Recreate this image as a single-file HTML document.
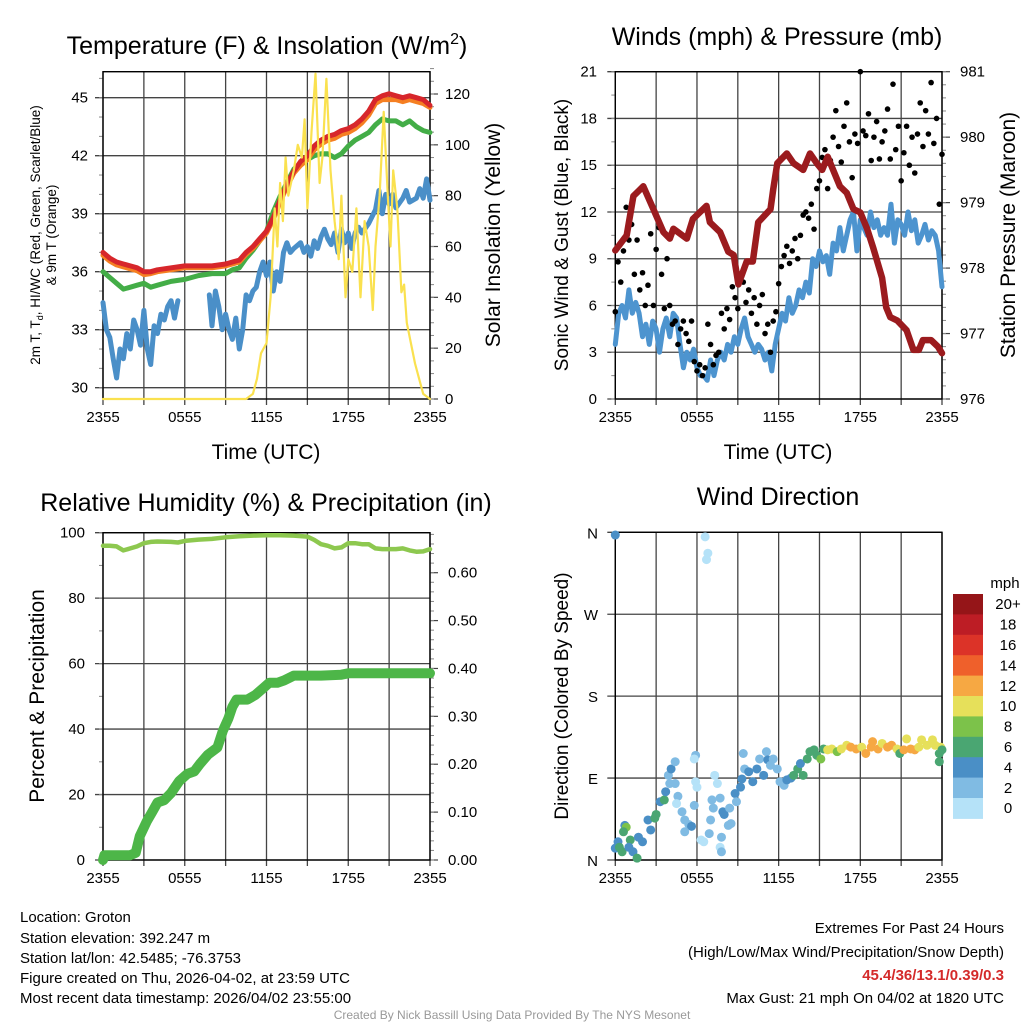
<!DOCTYPE html>
<html><head><meta charset="utf-8"><style>
html,body{margin:0;padding:0;background:#fff;}
svg{display:block;font-family:"Liberation Sans",Arial,sans-serif;}
</style></head><body>
<svg id="chart" width="1024" height="1024" viewBox="0 0 1024 1024" xmlns="http://www.w3.org/2000/svg">
<rect x="0" y="0" width="1024" height="1024" fill="#fff"/>
<text x="267" y="54" font-size="25" text-anchor="middle">Temperature (F) &amp; Insolation (W/m<tspan font-size="16" dy="-10">2</tspan><tspan dy="10">)</tspan></text>
<text x="777" y="45" font-size="25" text-anchor="middle">Winds (mph) &amp; Pressure (mb)</text>
<text x="266" y="511" font-size="25" text-anchor="middle">Relative Humidity (%) &amp; Precipitation (in)</text>
<text x="778" y="505" font-size="25" text-anchor="middle">Wind Direction</text>
<text x="266" y="459" font-size="21" text-anchor="middle">Time (UTC)</text>
<text x="778" y="459" font-size="21" text-anchor="middle">Time (UTC)</text>
<text transform="translate(40,235) rotate(-90)" font-size="13.5" text-anchor="middle">2m T, T<tspan font-size="9" dy="3">d</tspan><tspan dy="-3">, HI/WC (Red, Green, Scarlet/Blue)</tspan></text>
<text transform="translate(56,235) rotate(-90)" font-size="13.5" text-anchor="middle">&amp; 9m T (Orange)</text>
<text transform="translate(500,235) rotate(-90)" font-size="21" text-anchor="middle">Solar Insolation (Yellow)</text>
<text transform="translate(568,235) rotate(-90)" font-size="19" text-anchor="middle">Sonic Wind &amp; Gust (Blue, Black)</text>
<text transform="translate(1015,235) rotate(-90)" font-size="21" text-anchor="middle">Station Pressure (Maroon)</text>
<text transform="translate(44,696) rotate(-90)" font-size="21" text-anchor="middle">Percent &amp; Precipitation</text>
<text transform="translate(568,696) rotate(-90)" font-size="19" text-anchor="middle">Direction (Colored By Speed)</text>
<g font-size="15">
<text x="20" y="922">Location: Groton</text>
<text x="20" y="943">Station elevation: 392.247 m</text>
<text x="20" y="963">Station lat/lon: 42.5485; -76.3753</text>
<text x="20" y="983">Figure created on Thu, 2026-04-02, at 23:59 UTC</text>
<text x="20" y="1003">Most recent data timestamp: 2026/04/02 23:55:00</text>
</g>
<g font-size="15" text-anchor="end">
<text x="1004" y="933">Extremes For Past 24 Hours</text>
<text x="1004" y="957">(High/Low/Max Wind/Precipitation/Snow Depth)</text>
<text x="1004" y="980" font-weight="bold" fill="#d42a2a">45.4/36/13.1/0.39/0.3</text>
<text x="1004" y="1003">Max Gust: 21 mph On 04/02 at 1820 UTC</text>
</g>
<text x="512" y="1019" font-size="12" fill="#999" text-anchor="middle">Created By Nick Bassill Using Data Provided By The NYS Mesonet</text>
</svg>
<script>
// ---- Panel 1 data ----
const tempTimes = [0,0.5,1,1.5,2,2.5,3,3.5,4,5,6,7,8,9,9.5,10,10.5,11,11.5,12,12.5,13,13.5,14,14.5,15,15.5,16,16.5,17,17.5,18,18.5,19,19.5,20,20.5,21,21.5,22,22.5,23,23.5,24];
const airTemp = [37.0,36.7,36.5,36.4,36.3,36.2,36.0,36.0,36.1,36.2,36.3,36.3,36.3,36.4,36.5,36.6,37.0,37.3,37.7,38.1,38.8,39.7,40.5,41.2,41.7,42.0,42.5,42.8,43.0,43.1,43.3,43.4,43.6,43.9,44.3,44.9,45.1,45.2,45.1,45.0,45.1,45.0,44.9,44.6];
const temp9m = [36.85,36.55,36.35,36.25,36.15,36.05,35.85,35.9,36.0,36.1,36.2,36.2,36.2,36.3,36.4,36.5,36.9,37.2,37.6,38.0,38.7,39.6,40.4,41.1,41.5,41.8,42.3,42.6,42.8,42.9,43.1,43.2,43.4,43.7,44.1,44.7,44.9,44.9,44.9,44.8,44.9,44.8,44.7,44.5];
const heatIndex = [36.0,35.7,35.4,35.1,35.2,35.3,35.4,35.2,35.3,35.5,35.6,35.8,35.9,35.9,36.1,36.2,36.7,37.1,37.6,38.1,39.1,39.9,40.6,41.3,41.6,41.8,42.0,42.1,42.1,41.9,42.1,42.5,42.8,43.0,43.2,43.6,43.9,43.8,43.8,43.6,43.8,43.5,43.3,43.2];
const dewTimes = [0,0.25,0.5,0.75,1,1.25,1.5,1.75,2,2.25,2.5,2.75,3,3.25,3.5,3.75,4,4.25,4.5,4.75,5,5.25,5.5,5.6,7.8,8,8.25,8.5,8.75,9,9.25,9.5,9.75,10,10.25,10.5,10.75,11,11.25,11.5,11.75,12,12.25,12.5,12.75,13,13.25,13.5,13.75,14,14.5,14.75,15,15.25,15.5,15.75,16,16.25,16.5,16.75,17,17.25,17.5,17.75,18,18.25,18.5,18.75,19,19.5,20,20.25,20.5,20.75,21,21.25,21.5,22,22.25,22.5,23,23.25,23.5,23.75,24];
const dewPoint = [34.4,33.0,32.6,31.5,30.5,32.0,31.5,32.8,32.0,33.5,33.0,32.2,34.0,32.0,31.2,33.2,32.8,33.8,33.5,34.2,34.5,33.6,34.5,null,34.8,33.2,35.0,34.2,33.0,33.8,33.0,32.5,33.6,32.0,33.0,34.8,34.5,35.0,35.2,36.0,36.5,35.8,36.5,35.0,36.0,35.5,37.0,37.5,37.0,37.2,37.5,37.0,37.3,36.8,37.6,37.2,37.8,38.2,37.7,37.4,38.0,37.0,38.2,37.5,38.0,37.2,38.0,38.3,38.0,38.5,39.2,40.2,39.0,40.0,39.5,40.0,39.3,39.8,40.2,39.6,39.8,40.3,39.8,40.8,39.7];
const solarTimes = [0,10.5,11,11.3,11.6,12,12.3,12.6,12.8,13,13.2,13.4,13.6,14,14.3,14.6,14.8,15,15.3,15.6,15.9,16.1,16.4,16.7,17,17.3,17.5,17.8,18,18.3,18.6,18.9,19.2,19.5,19.8,20,20.3,20.6,20.9,21.1,21.3,21.6,21.9,22.1,22.3,22.6,22.9,23.2,23.5,24];
const solarValues = [0,0,2,8,18,22,40,75,60,85,70,95,80,90,100,95,110,75,105,128,85,95,126,90,70,55,80,40,55,50,75,40,70,60,35,60,80,113,80,60,90,75,42,45,30,22,14,8,2,0];
const tempTicks = [30,33,36,39,42,45];
const solarTicks = [0,20,40,60,80,100,120];
const timeLabels = ["2355","0555","1155","1755","2355"];
// ---- Panel 2 data ----
const windTimes = [0,0.25,0.5,0.75,1,1.25,1.5,1.75,2,2.25,2.5,2.75,3,3.25,3.5,3.75,4,4.25,4.5,4.75,5,5.25,5.5,5.75,6,6.25,6.5,6.75,7,7.25,7.5,7.75,8,8.25,8.5,8.75,9,9.25,9.5,9.75,10,10.25,10.5,10.75,11,11.25,11.5,11.75,12,12.25,12.5,12.75,13,13.25,13.5,13.75,14,14.25,14.5,14.75,15,15.25,15.5,15.75,16,16.25,16.5,16.75,17,17.25,17.5,17.75,18,18.25,18.5,18.75,19,19.25,19.5,19.75,20,20.25,20.5,20.75,21,21.25,21.5,21.75,22,22.25,22.5,22.75,23,23.25,23.5,23.75,24];
const windSpeed = [3.5,5.5,6.0,5.2,7.0,5.5,6.2,5.5,4.0,4.8,3.5,5.0,4.5,3.0,4.5,5.2,4.0,5.5,5.2,3.5,2.0,3.0,2.5,3.2,2.0,1.5,1.5,1.2,2.5,1.5,2.5,3.0,2.5,3.5,3.0,4.0,3.5,4.5,5.2,4.0,3.5,3.0,3.5,3.2,2.5,3.0,1.8,3.5,4.5,5.5,5.0,6.5,5.5,6.0,7.0,6.5,7.5,6.8,9.0,8.5,9.5,8.8,9.2,8.0,10.0,9.5,11.0,9.5,10.5,11.5,12.0,9.5,11.5,11.0,10.5,12.0,11.0,11.5,10.5,11.0,10.5,12.5,10.0,11.5,11.2,10.5,12.0,10.8,11.5,10.0,10.5,11.2,10.2,10.8,10.5,9.5,7.2];
const gustTimes = [0,0.2,0.4,0.6,0.8,1,1.2,1.4,1.6,1.8,2,2.2,2.4,2.6,2.8,3,3.2,3.4,3.6,3.8,4,4.2,4.4,4.6,4.8,5,5.2,5.4,5.6,5.8,6,6.2,6.4,6.6,6.8,7,7.2,7.4,7.6,7.8,8,8.2,8.4,8.6,8.8,9,9.2,9.4,9.6,9.8,10,10.2,10.4,10.6,10.8,11,11.2,11.4,11.6,11.8,12,12.2,12.4,12.6,12.8,13,13.2,13.4,13.6,13.8,14,14.2,14.4,14.6,14.8,15,15.2,15.4,15.6,15.8,16,16.2,16.4,16.6,16.8,17,17.2,17.4,17.6,17.8,18,18.2,18.4,18.6,18.8,19,19.2,19.4,19.6,19.8,20,20.2,20.4,20.6,20.8,21,21.2,21.4,21.6,21.8,22,22.2,22.4,22.6,22.8,23,23.2,23.4,23.6,23.8,24];
const gustSpeed = [5.6,8.8,7.5,9.5,12.3,10.2,11.2,8.0,10.2,7.0,8.1,6.0,7.3,10.6,6.0,9.6,11.0,8.0,5.8,9.0,6.0,4.8,5.0,3.5,4.5,5.0,4.2,3.7,5.0,2.4,1.8,2.2,1.5,2.0,4.8,3.5,2.2,2.8,3.0,5.5,4.5,5.8,5.1,7.2,6.5,5.8,8.0,7.5,6.2,7.0,5.5,6.5,4.8,6.0,6.7,4.2,4.8,3.0,5.0,5.6,7.4,8.5,9.2,9.8,8.7,9.5,10.3,9.0,10.5,11.8,12.0,11.6,12.5,10.9,13.5,14.0,15.5,16.0,13.5,15.3,16.8,18.5,16.2,15.2,17.5,19.0,16.5,14.2,17.0,16.4,21.0,17.2,16.9,18.3,15.3,16.8,17.8,15.4,16.5,17.2,18.6,15.4,20.2,16.0,17.5,14.0,15.8,17.5,15.0,16.8,14.5,17.0,19.0,16.2,18.5,17.0,20.3,16.4,18.0,12.5,15.7];
const presTimes = [0,0.84,1.33,2.06,2.8,3.53,4.0,4.27,5.25,5.7,6.2,6.7,6.95,7.7,8.3,8.7,9.04,9.65,10.1,10.5,11.4,11.6,11.9,12.6,13.1,13.8,14.3,14.8,15.2,15.6,16.0,16.5,17.0,17.5,18.0,18.5,18.96,19.6,19.9,20.2,20.7,21.4,21.9,22.3,22.6,23.2,23.7,24.0];
const pressure = [978.27,978.5,979.1,979.25,978.9,978.55,978.45,978.6,978.45,978.75,978.85,978.95,978.7,978.55,978.25,978.2,977.75,978.1,978.1,978.7,978.9,979.2,979.6,979.75,979.6,979.5,979.75,979.6,979.5,979.7,979.5,979.25,979.15,978.9,978.85,978.6,978.3,977.85,977.4,977.25,977.2,977.05,976.75,976.75,976.9,976.9,976.8,976.7];
const windTicks = [0,3,6,9,12,15,18,21];
const presTicks = [976,977,978,979,980,981];
// ---- Panel 3 data ----
const rhTimes = [0,0.5,1,1.5,2,2.5,3,3.5,4,5,5.5,6,7,8,9,10,11,12,13,14,15,15.5,16,16.5,17,17.5,18,18.5,19,19.5,20,20.5,21,21.5,22,22.5,23,23.5,24];
const rhValues = [96,96,95.8,94.6,95.2,95.8,96.8,97.2,97.3,97.2,97.0,97.5,97.9,98.1,98.6,98.9,99.1,99.2,99.2,99.1,98.8,97.8,96.5,96.0,95.2,95.5,96.8,96.8,96.5,96.5,95.2,95.0,95.0,95.0,95.2,94.6,94.2,94.3,95.0];
const precipTimes = [0,0.1,1,2,2.4,2.7,3.2,3.6,4,4.5,5,5.6,6.2,6.7,7.1,7.7,8.4,8.8,9.2,9.5,9.8,10.6,11.2,11.8,12.2,12.8,13.3,14,16,17.5,18,24];
const precipValues = [0,0.01,0.01,0.01,0.015,0.05,0.08,0.10,0.12,0.125,0.14,0.165,0.18,0.185,0.2,0.22,0.235,0.27,0.295,0.32,0.335,0.335,0.345,0.36,0.37,0.37,0.375,0.385,0.385,0.387,0.39,0.39];
const rhTicks = [0,20,40,60,80,100];
const precipTicks = [0,0.1,0.2,0.3,0.4,0.5,0.6];
const precipTickLabels = ["0.00","0.10","0.20","0.30","0.40","0.50","0.60"];
// ---- Panel 4 data ----
const dirTimes = [0,0,0.2,0.3,0.5,0.7,0.8,0.6,1.1,1.0,1.3,1.6,1.7,2.0,2.4,2.6,2.9,3.0,3.3,3.6,3.7,3.9,4.1,4.4,4.0,4.4,4.6,4.5,4.9,5.1,5.4,5.6,5.1,5.8,5.9,5.8,6.0,5.9,6.6,6.8,6.7,6.3,6.5,6.9,7.0,7.2,7.3,7.5,7.1,7.7,7.8,7.7,7.8,7.9,8.0,8.3,8.5,8.4,8.8,8.9,9.2,9.3,9.4,9.5,9.8,10.1,10.4,10.6,10.9,11.1,11.2,11.4,11.6,11.9,12.1,12.4,12.6,12.9,13.1,13.4,13.6,13.8,14.1,14.3,14.6,14.8,15.1,15.3,15.6,15.9,16.3,16.6,17.0,17.3,17.7,18.1,18.4,18.8,18.9,19.3,19.6,20.0,20.3,20.7,20.9,21.2,21.4,21.7,22.0,22.3,22.5,22.9,23.3,23.5,23.8,23.8,23.9,24.0];
const dirDegrees = [357,13,20,14,9,38,36,31,22,14,9,2,25,20,44,33,46,50,64,66,75,93,100,108,84,84,70,62,53,44,39,37,31,60,115,111,80,86,355,337,330,22,20,29,44,57,93,84,66,68,25,14,9,53,50,38,40,57,73,64,80,89,117,100,97,86,100,111,93,119,110,104,111,100,86,82,88,90,93,100,106,93,111,119,121,115,111,122,121,122,119,122,126,124,122,124,117,124,130,122,128,124,126,122,117,121,133,122,121,124,132,126,132,126,117,108,124,121];
const dirSpeeds = [4,4,4,6,6,4,8,6,6,4,4,6,4,4,4,4,6,6,4,6,4,2,4,2,2,2,2,1,2,2,2,4,2,2,2,1,1,1,0,1,1,1,0,2,2,2,1,1,2,2,2,1,2,4,4,2,2,2,4,2,4,4,2,2,4,4,4,2,4,2,4,2,2,2,2,2,4,4,6,6,4,6,6,6,6,6,8,6,10,10,8,10,10,12,12,10,12,12,12,12,10,12,12,10,6,12,10,12,12,10,10,10,10,10,6,6,10,6];
const dirTicks = [0,90,180,270,360];
const dirTickLabels = ["N","E","S","W","N"];
const speedBins = ["0","2","4","6","8","10","12","14","16","18","20+"];
const speedColors = ["#b5e2f8","#80bbe3","#4a8fc6","#4aa672","#7cc24a","#e6e05a","#f6a843","#ef602b","#dc3328","#bd1d25","#951518"];

const NS = "http://www.w3.org/2000/svg";
const svg = document.getElementById('chart');
function el(tag, attrs, parent) {
  const e = document.createElementNS(NS, tag);
  for (const k in attrs) e.setAttribute(k, attrs[k]);
  (parent || svg).appendChild(e);
  return e;
}
function lin(d0, d1, r0, r1) { return v => r0 + (v - d0) * (r1 - r0) / (d1 - d0); }
function pathD(ts, vs, fx, fy) {
  let d = "", pen = false;
  for (let i = 0; i < ts.length; i++) {
    if (vs[i] === null) { pen = false; continue; }
    d += (pen ? "L" : "M") + fx(ts[i]).toFixed(1) + "," + fy(vs[i]).toFixed(1);
    pen = true;
  }
  return d;
}

function drawFrame(name, x0, x1, y0, y1, leftTicks, fyL, leftMinor, rightTicks, fyR, rightMinor, xLabels) {
  const g = el('g', {});
  
  
  const fx = lin(0, 24, x0, x1);
  for (let h = 0; h <= 24; h += 3) {
    const x = fx(h);
    const gl = el('line', {x1: x, x2: x, y1: y0, y2: y1 + 6, stroke: '#444', 'stroke-width': 1.3}, g);
    
    
  }
  xLabels.forEach((lab, i) => {
    const t = el('text', {x: fx(i * 6), y: y1 + 23, 'font-size': 15, 'text-anchor': 'middle'}, g);
    t.textContent = lab;
    
    
  });
  leftTicks.forEach(v => {
    const y = fyL(v);
    const gl = el('line', {x1: x0 - 8, x2: x1, y1: y, y2: y, stroke: '#444', 'stroke-width': 1.3}, g);
    
    
  });
  leftMinor.forEach(v => {
    const y = fyL(v);
    const m = el('line', {x1: x0 - 4, x2: x0, y1: y, y2: y, stroke: '#888', 'stroke-width': 1}, g);
    
    
  });
  if (rightTicks) {
    rightTicks.forEach(v => {
      const y = fyR(v);
      const m = el('line', {x1: x1, x2: x1 + 8, y1: y, y2: y, stroke: '#444', 'stroke-width': 1.2}, g);
      
      
    });
    rightMinor.forEach(v => {
      const y = fyR(v);
      const m = el('line', {x1: x1, x2: x1 + 4, y1: y, y2: y, stroke: '#888', 'stroke-width': 1}, g);
      
      
    });
  }
  const b = el('rect', {x: x0, y: y0, width: x1 - x0, height: y1 - y0, fill: 'none', stroke: '#000', 'stroke-width': 1.4}, g);
  
  
  return fx;
}
function tickLabels(ticks, labels, fy, x, anchor, name) {
  ticks.forEach((v, i) => {
    const t = el('text', {x: x, y: fy(v) + 5, 'font-size': 15, 'text-anchor': anchor});
    t.textContent = labels ? labels[i] : String(v);
    
    
  });
}
function range(a, b, s) { const r = []; for (let v = a; v <= b + 1e-9; v += s) r.push(+v.toFixed(4)); return r; }
function line(d, color, w, name) {
  const p = el('path', {d: d, fill: 'none', stroke: color, 'stroke-width': w, 'stroke-linejoin': 'round', 'stroke-linecap': 'round'});
  
  
  return p;
}

// ===== Panel 1 =====
const p1 = {x0: 103, x1: 430, y0: 71.7, y1: 399};
const fyT = lin(30, 45, 387.7, 97.7);
const fyS = lin(0, 120, 399, 94);
const fx1 = drawFrame('temperature', p1.x0, p1.x1, p1.y0, p1.y1, tempTicks, fyT, range(30, 46, 1), solarTicks, fyS, range(0, 130, 5), timeLabels);
tickLabels(tempTicks, null, fyT, 88, 'end', 'temp-tick-label');
tickLabels(solarTicks, null, fyS, 445, 'start', 'solar-tick-label');
line(pathD(tempTimes, heatIndex, fx1, fyT), '#43ad47', 5, 'heat-index-line');
line(pathD(tempTimes, temp9m, fx1, fyT), '#f57f22', 5, 'temp-9m-line');
line(pathD(tempTimes, airTemp, fx1, fyT), '#d7262b', 5, 'temp-2m-line');
line(pathD(dewTimes, dewPoint, fx1, fyT), '#4a8fc8', 5, 'dewpoint-line');
line(pathD(solarTimes, solarValues, fx1, fyS), '#fae14f', 2.2, 'solar-line');

// ===== Panel 2 =====
const p2 = {x0: 615.3, x1: 942, y0: 71.7, y1: 399};
const fyW = lin(0, 21, 399, 71.7);
const fyP = lin(976, 981, 399, 71.7);
const fx2 = drawFrame('winds', p2.x0, p2.x1, p2.y0, p2.y1, windTicks, fyW, range(0, 21, 1.5), presTicks, fyP, range(976, 981, 0.2), timeLabels);
tickLabels(windTicks, null, fyW, 597, 'end', 'wind-tick-label');
tickLabels(presTicks, null, fyP, 960, 'start', 'pressure-tick-label');
line(pathD(windTimes, windSpeed, fx2, fyW), '#4d94cf', 5, 'wind-speed-line');
gustTimes.forEach((t, i) => {
  const c = el('circle', {cx: fx2(t), cy: fyW(gustSpeed[i]), r: 2.8, fill: '#000'});
  
  
});
line(pathD(presTimes, pressure, fx2, fyP), '#9b1b1e', 6.5, 'pressure-line');

// ===== Panel 3 =====
const p3 = {x0: 103, x1: 430, y0: 532.7, y1: 860};
const fyR = lin(0, 100, 860, 532.7);
const fyQ = lin(0, 0.6, 860, 572.7);
const fx3 = drawFrame('humidity', p3.x0, p3.x1, p3.y0, p3.y1, rhTicks, fyR, range(0, 100, 10), precipTicks, fyQ, range(0, 0.68, 0.02), timeLabels);
tickLabels(rhTicks, null, fyR, 85, 'end', 'rh-tick-label');
tickLabels(precipTicks, precipTickLabels, fyQ, 448, 'start', 'precip-tick-label');
line(pathD(rhTimes, rhValues, fx3, fyR), '#8dc84f', 4.5, 'rh-line');
line(pathD(precipTimes, precipValues, fx3, fyQ), '#4db648', 10, 'precip-line');

// ===== Panel 4 =====
const p4 = {x0: 615.3, x1: 942, y0: 532.3, y1: 860};
const fyD = lin(0, 360, 860, 532.3);
const fx4 = drawFrame('direction', p4.x0, p4.x1, p4.y0, p4.y1, dirTicks, fyD, [], null, null, null, timeLabels);
dirTicks.forEach((v, i) => {
  const t = el('text', {x: 598, y: fyD(v) + 6, 'font-size': 15, 'text-anchor': 'end'});
  t.textContent = dirTickLabels[i];
  
  
});
dirTimes.forEach((t, i) => {
  const idx = Math.min(10, Math.floor(dirSpeeds[i] / 2));
  const c = el('circle', {cx: fx4(t), cy: fyD(dirDegrees[i]), r: 4.5, fill: speedColors[idx]});
  
  
});
// colorbar
const cbTop = 594, cbH = 20.4;
const mph = el('text', {x: 1005, y: 588, 'font-size': 15, 'text-anchor': 'middle'});
mph.textContent = 'mph';


for (let k = 0; k < speedBins.length; k++) {
  const bin = speedBins.length - 1 - k;
  const r = el('rect', {x: 953, y: cbTop + k * cbH, width: 30, height: cbH + 0.5, fill: speedColors[bin]});
  
  
  const t = el('text', {x: 1008, y: cbTop + k * cbH + cbH / 2 + 5, 'font-size': 15, 'text-anchor': 'middle'});
  t.textContent = speedBins[bin];
  
  
}
</script>
</body></html>
